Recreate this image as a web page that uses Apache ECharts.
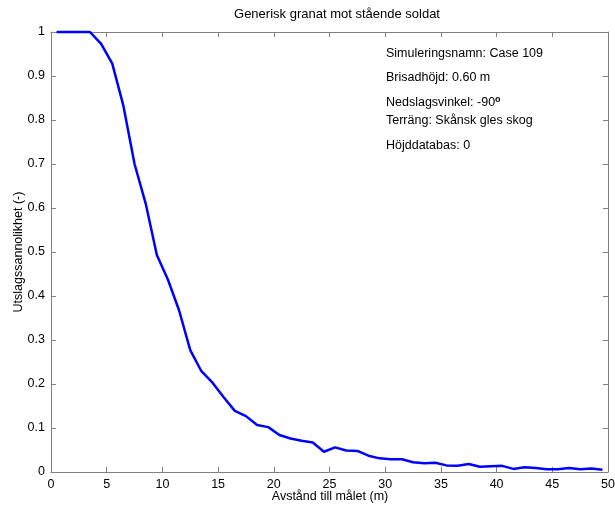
<!DOCTYPE html>
<html>
<head>
<meta charset="utf-8">
<script src="https://cdn.jsdelivr.net/npm/echarts@6/dist/echarts.min.js"></script>
<style>html,body{margin:0;padding:0;background:#fff;}#c{width:615px;height:506px;}</style>
</head>
<body>
<div id="c"></div>
<script>
var distances = [0.5,1.5,2.5,3.5,4.5,5.5,6.5,7.5,8.5,9.5,10.5,11.5,12.5,13.5,14.5,15.5,16.5,17.5,18.5,19.5,20.5,21.5,22.5,23.5,24.5,25.5,26.5,27.5,28.5,29.5,30.5,31.5,32.5,33.5,34.5,35.5,36.5,37.5,38.5,39.5,40.5,41.5,42.5,43.5,44.5,45.5,46.5,47.5,48.5,49.5];
var probability = [1,1,1,1,0.973,0.928,0.832,0.70,0.61,0.493,0.437,0.367,0.277,0.229,0.203,0.17,0.139,0.127,0.107,0.102,0.084,0.076,0.071,0.067,0.046,0.056,0.049,0.048,0.037,0.031,0.029,0.029,0.022,0.020,0.021,0.015,0.014,0.018,0.012,0.013,0.014,0.007,0.011,0.009,0.006,0.006,0.009,0.006,0.008,0.005];
var chartTitle = 'Generisk granat mot stående soldat';
var xLabel = 'Avstånd till målet (m)';
var yLabel = 'Utslagssannolikhet (-)';
var infoLines = ['Simuleringsnamn: Case 109','Brisadhöjd: 0.60 m','Nedslagsvinkel: -90','Terräng: Skånsk gles skog','Höjddatabas: 0'];

var FONT = 'Liberation Sans, Arial, sans-serif';
var FS = 12.5;
var axisColor = '#808080';
var chart = echarts.init(document.getElementById('c'), null, {renderer:'canvas'});

var data = distances.map(function(d,i){return [d, probability[i]];});

function yFmt(v){ return String(Math.round(v*10)/10); }

var infoTops = [47, 71, 95, 114, 139];
var graphics = infoLines.map(function(t,i){
  var txt = (i===2) ? '{a|'+t+'}{s|o}' : t;
  return {
    type:'text', left:386, top:infoTops[i],
    style:{
      text: txt, fill:'#000', font:FS+'px '+FONT,
      rich: (i===2) ? {a:{fontSize:FS,fontFamily:FONT,fill:'#000'}, s:{fontSize:9,fontWeight:'bold',fontFamily:FONT,fill:'#000',padding:[0,0,7,0]}} : undefined
    }
  };
});
graphics.push({type:'text', x:330, y:490, style:{text:xLabel, fill:'#000', font:FS+'px '+FONT, textAlign:'center', textVerticalAlign:'top'}});

var tickStyle = {show:true, inside:true, length:5, lineStyle:{color:axisColor}};
var lineStyleAx = {show:true, onZero:false, lineStyle:{color:axisColor, width:1}};

chart.setOption({
  animation:false,
  backgroundColor:'#fff',
  title:{text:chartTitle, left:332, textAlign:'center', top:3, textStyle:{fontSize:13, fontWeight:'normal', color:'#000', fontFamily:FONT}},
  grid:{left:51, right:7, top:32, bottom:34, containLabel:false, outerBoundsMode:'none'},
  xAxis:[
    {type:'value', position:'bottom', min:0, max:50, interval:5,
     axisLine:lineStyleAx, axisTick:tickStyle,
     axisLabel:{color:'#000', fontSize:FS, fontFamily:FONT, margin:6},
     splitLine:{show:false}},
    {type:'value', position:'top', min:0, max:50, interval:5,
     axisLine:lineStyleAx, axisTick:tickStyle,
     axisLabel:{show:false}, splitLine:{show:false}}
  ],
  yAxis:[
    {type:'value', position:'left', min:0, max:1, interval:0.1,
     name:yLabel, nameLocation:'middle', nameGap:26, nameRotate:90, nameMoveOverlap:false,
     nameTextStyle:{color:'#000', fontSize:FS, fontFamily:FONT},
     axisLine:lineStyleAx, axisTick:tickStyle,
     axisLabel:{color:'#000', fontSize:FS, fontFamily:FONT, margin:6, formatter:yFmt},
     splitLine:{show:false}},
    {type:'value', position:'right', min:0, max:1, interval:0.1,
     axisLine:lineStyleAx, axisTick:tickStyle,
     axisLabel:{show:false}, splitLine:{show:false}}
  ],
  series:[{
    type:'line', data:data, xAxisIndex:0, yAxisIndex:0,
    showSymbol:false, symbol:'none',
    lineStyle:{color:'#0000ff', width:2.5},
    clip:false
  }],
  graphic:graphics
});
</script>
</body>
</html>
